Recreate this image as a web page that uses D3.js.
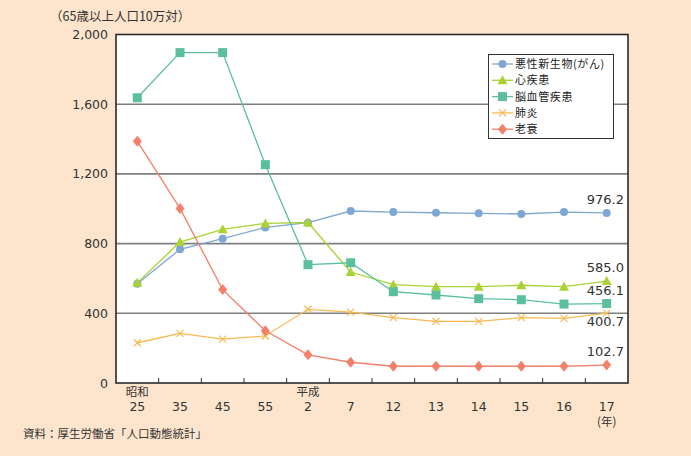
<!DOCTYPE html>
<html><head><meta charset="utf-8">
<script src="https://cdn.jsdelivr.net/npm/d3@7/dist/d3.min.js"></script>
<style>
html,body{margin:0;padding:0;background:#fde5cd;}
svg{display:block;font-family:"Noto Sans CJK JP","Noto Sans",sans-serif;}
</style></head>
<body><svg id="c" width="691" height="456"></svg>
<script>
const categories = ["昭和25","35","45","55","平成2","7","12","13","14","15","16","17"];
const eraLabels = ["昭和","","","","平成","","","","","","",""];
const yearLabels = ["25","35","45","55","2","7","12","13","14","15","16","17"];
const seriesNames = ["悪性新生物(がん)","心疾患","脳血管疾患","肺炎","老衰"];
const cancer    = [570,767,828,893,920,987,981,977,974,970,981,976.2];
const heart     = [576,809,882,916,921,637,564,553,553,561,553,585.0];
const stroke    = [1637,1896,1896,1253,679,690,524,505,484,478,453,456.1];
const pneumonia = [231,285,252,270,423,407,375,354,354,375,371,400.7];
const senility  = [1387,1002,536,300,162,119,96,96,96,96,96,102.7];
const endLabels = ["976.2","585.0","456.1","400.7","102.7"];
const yTicks = [0,400,800,1200,1600,2000];

const colors = ["#7fa7d3","#aad233","#5bbf9e","#f8ba52","#f47f6b"];
const markers = ["circle","triangle","square","cross","diamond"];
const seriesData = [cancer,heart,stroke,pneumonia,senility];

const svg = d3.select("#c");
const L=116,R=628,T=34.5,B=383;
const x = d3.scaleBand().domain(categories).range([L,R]);
const y = d3.scaleLinear().domain([0,2000]).range([B,T]);

svg.append("rect").attr("x",L).attr("y",T).attr("width",R-L).attr("height",B-T).attr("fill","#fff");
svg.append("g").selectAll("line").data(yTicks.filter(d=>d>0&&d<2000)).join("line")
  .attr("x1",L).attr("x2",R).attr("y1",d=>y(d)).attr("y2",d=>y(d))
  .attr("stroke","#7f7f7f").attr("stroke-width",1.6);
const ya = svg.append("g").attr("transform",`translate(${L},0)`)
  .call(d3.axisLeft(y).tickValues(yTicks).tickFormat(d3.format(",")).tickSize(0).tickPadding(8));
ya.select(".domain").remove();
ya.selectAll("text").attr("font-size",12.5).attr("fill","#333").style("font-family","'DejaVu Sans',sans-serif");
const bounds = categories.slice(1).map(c=>x(c));
svg.append("g").selectAll("line").data(bounds).join("line")
  .attr("x1",d=>d).attr("x2",d=>d).attr("y1",B).attr("y2",B-5).attr("stroke","#333").attr("stroke-width",1);
svg.append("rect").attr("x",L).attr("y",T).attr("width",R-L).attr("height",B-T)
  .attr("fill","none").attr("stroke","#2a2a2a").attr("stroke-width",1.6);

const xl = svg.append("g");
categories.forEach((c,i)=>{
  const cx = x(c)+x.bandwidth()/2;
  if(eraLabels[i]) xl.append("text").attr("x",cx).attr("y",396).attr("text-anchor","middle")
     .attr("font-size",11.5).attr("fill","#333").text(eraLabels[i]);
  xl.append("text").attr("x",cx).attr("y",411).attr("text-anchor","middle")
     .attr("font-size",12.5).attr("fill","#333").style("font-family","'DejaVu Sans',sans-serif").text(yearLabels[i]);
});
xl.append("text").attr("x",x(categories[11])+x.bandwidth()/2).attr("y",426).attr("text-anchor","middle")
  .attr("font-size",11.5).attr("fill","#333").text("(年)");

svg.append("text").attr("x",50).attr("y",21).attr("font-size",12.5).attr("fill","#333").text("（65歳以上人口10万対）");
svg.append("text").attr("x",23).attr("y",438).attr("font-size",11.5).attr("fill","#333").text("資料：厚生労働省「人口動態統計」");

function drawMarker(g,type,cx,cy,color){
  if(type==="circle") g.append("circle").attr("cx",cx).attr("cy",cy).attr("r",4).attr("fill",color);
  else if(type==="square") g.append("rect").attr("x",cx-4.5).attr("y",cy-4.5).attr("width",9).attr("height",9).attr("fill",color);
  else if(type==="triangle") g.append("path").attr("d",`M${cx},${cy-5}L${cx+5},${cy+4}L${cx-5},${cy+4}Z`).attr("fill",color);
  else if(type==="diamond") g.append("path").attr("d",`M${cx},${cy-5.5}L${cx+4.5},${cy}L${cx},${cy+5.5}L${cx-4.5},${cy}Z`).attr("fill",color);
  else if(type==="cross") g.append("path").attr("d",`M${cx-3.5},${cy-3.5}L${cx+3.5},${cy+3.5}M${cx+3.5},${cy-3.5}L${cx-3.5},${cy+3.5}`).attr("stroke",color).attr("stroke-width",1.2);
}

const line = d3.line().x((d,i)=>x(categories[i])+x.bandwidth()/2).y(d=>y(d));
seriesData.forEach((s,k)=>{
  const g = svg.append("g");
  g.append("path").attr("d",line(s)).attr("fill","none").attr("stroke",colors[k]).attr("stroke-width",1.3);
  s.forEach((v,i)=>drawMarker(g,markers[k],x(categories[i])+x.bandwidth()/2,y(v),colors[k]));
});

const endOffsets = [-9,-9,-9,13,-9];
seriesData.forEach((s,k)=>{
  svg.append("text").attr("x",624).attr("y",y(s[11])+endOffsets[k]).attr("text-anchor","end")
    .attr("font-size",13).attr("fill","#333").style("font-family","'DejaVu Sans',sans-serif").text(endLabels[k]);
});

const lg = svg.append("g");
lg.append("rect").attr("x",488.5).attr("y",54.5).attr("width",125).attr("height",84)
  .attr("fill","#fff").attr("stroke","#333").attr("stroke-width",1);
seriesNames.forEach((n,k)=>{
  const yy = 64 + k*16.3;
  lg.append("line").attr("x1",492).attr("x2",513).attr("y1",yy).attr("y2",yy).attr("stroke",colors[k]).attr("stroke-width",1.3);
  drawMarker(lg,markers[k],502.5,yy,colors[k]);
  lg.append("text").attr("x",515).attr("y",yy+4).attr("font-size",11).attr("letter-spacing",0.6).attr("fill","#222").text(n);
});
</script></body></html>
